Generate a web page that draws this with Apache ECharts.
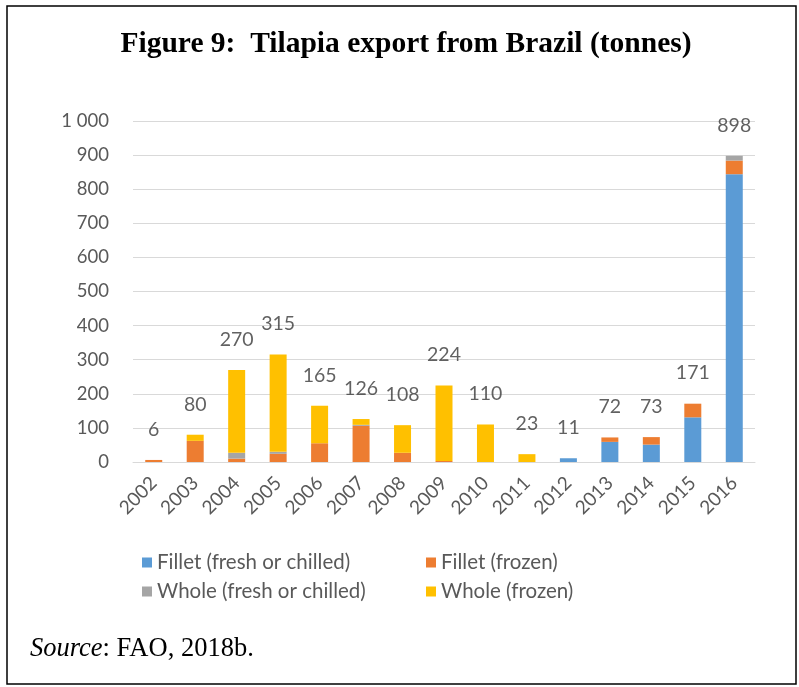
<!DOCTYPE html>
<html><head><meta charset="utf-8">
<script src="https://cdn.jsdelivr.net/npm/echarts@6/dist/echarts.min.js"></script>
<style>html,body{margin:0;padding:0;background:#fff}#c{width:799px;height:687px}</style>
</head><body><div id="c"></div>
<script>
const years = ['2002','2003','2004','2005','2006','2007','2008','2009','2010','2011','2012','2013','2014','2015','2016'];
const filletFresh = [0,0,0,0,0,0,0,0,0,0,11,59,51,131,844];
const filletFrozen = [6,62,10,24,55,106,27,3,0,0,0,13,22,40,40];
const wholeFresh = [0,0,17,6,0,3,0,0,0,0,0,0,0,0,14];
const wholeFrozen = [0,18,243,285,110,17,81,221,110,23,0,0,0,0,0];
const totals = [6,80,270,315,165,126,108,224,110,23,11,72,73,171,898];
const yTicks = [0,100,200,300,400,500,600,700,800,900,1000];

const names = ['Fillet (fresh or chilled)','Fillet (frozen)','Whole (fresh or chilled)','Whole (frozen)'];
const colors = ['#5B9BD5','#ED7D31','#A5A5A5','#FFC000'];
const font = 'Lato';
const chart = echarts.init(document.getElementById('c'));
function bar(i, data){
  return {name:names[i], type:'bar', stack:'t', data:data, barWidth:17,
    itemStyle:{color:colors[i]}};
}
const legendPos = [[142,552],[426,552],[142,581],[426,581]];
chart.setOption({
  animation:false,
  graphic:[
    {type:'rect', shape:{x:7,y:6,width:789,height:678}, style:{fill:'none', stroke:'#000', lineWidth:1.5}},
    {type:'text', x:406, y:29, style:{text:'Figure 9:  Tilapia export from Brazil (tonnes)', textAlign:'center', font:'bold 29.5px "Liberation Serif"', fill:'#000'}},
    {type:'text', left:30, top:636, style:{text:'{i|Source}: FAO, 2018b.', font:'26.5px "Liberation Serif"', fill:'#000',
      rich:{i:{font:'italic 26.5px "Liberation Serif"', fill:'#000'}}}}
  ],
  legend: legendPos.map((p,i)=>({data:[names[i]], left:p[0], top:p[1], itemWidth:10, itemHeight:10, itemGap:4, padding:0,
    icon:'rect', textStyle:{fontFamily:font, fontSize:20.5, color:'#595959'}})),
  grid:{left:133, right:44, top:121, bottom:225},
  xAxis:{type:'category', data:years,
    axisLine:{lineStyle:{color:'#D9D9D9'}}, axisTick:{show:false},
    axisLabel:{rotate:45, fontFamily:font, fontSize:19, color:'#595959', interval:0, margin:18}},
  yAxis:{type:'value', min:yTicks[0], max:yTicks[yTicks.length-1], interval:100,
    axisLine:{show:false}, axisTick:{show:false},
    splitLine:{lineStyle:{color:'#D9D9D9'}},
    axisLabel:{fontFamily:font, fontSize:18.5, color:'#595959', margin:24,
      formatter:v=> v>=1000 ? String(v).replace(/\B(?=(\d{3})+(?!\d))/g,' ') : String(v)}},
  series:[
    bar(0,filletFresh), bar(1,filletFrozen), bar(2,wholeFresh), bar(3,wholeFrozen),
    {type:'scatter', data:totals, symbolSize:1, itemStyle:{color:'rgba(0,0,0,0)'}, silent:true, z:10,
      label:{show:true, position:'top', distance:20, fontFamily:font, fontSize:19.5, color:'#3a3a3a',
        formatter:p=>String(p.value)}}
  ]
});
</script></body></html>
